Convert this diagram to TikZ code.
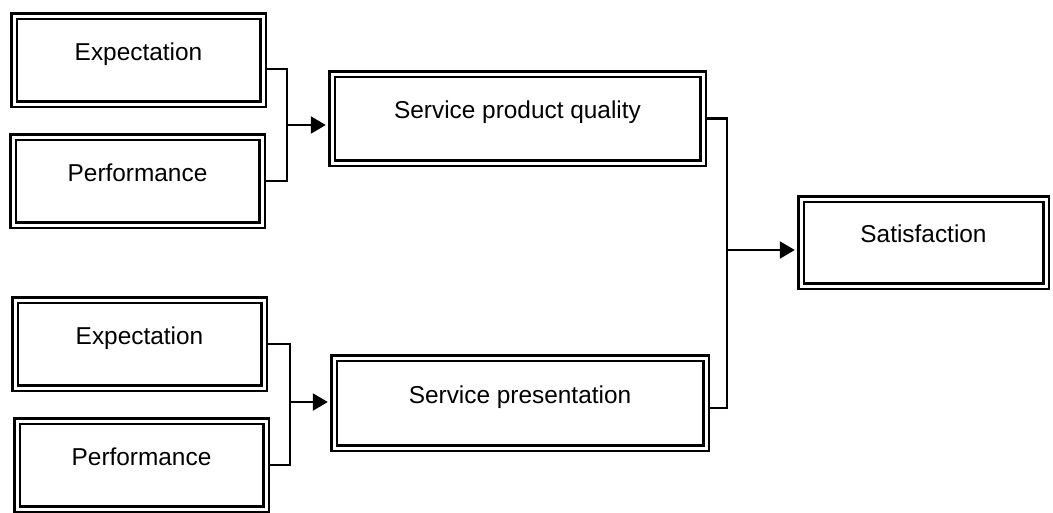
\documentclass[tikz,border=0pt]{standalone}
\usepackage{fontspec}
\setmainfont{Liberation Sans}
\usetikzlibrary{arrows.meta}

\tikzset{
  box/.style={draw, double, double distance=3pt, line width=2.4pt,
    minimum width=249pt, minimum height=88pt, inner sep=0pt,
    text height=17.5pt, text depth=17pt,
    font=\fontsize{24.4}{29}\selectfont},
  link/.style={line width=2.2pt},
  bracket/.style={link, shorten <=3pt, shorten >=3pt},
  arr/.style={link, -{Triangle[length=15pt,width=17pt]}, shorten >=5pt}
}

\begin{document}
\begin{tikzpicture}[x=1pt,y=-1pt]
\useasboundingbox (0,0) rectangle (1053,512);

% the two pairs of inputs
\node[box] (exp1) at (138.5,60) {Expectation};
\node[box] (perf1) at (137.5,181) {Performance};
\node[box] (exp2) at (139.5,344) {Expectation};
\node[box] (perf2) at (141.5,465) {Performance};

% the two quality nodes and the outcome
\node[box, minimum width=371pt, minimum height=89pt] (spq) at (517.5,118.5) {Service product quality};
\node[box, minimum width=372pt, minimum height=90pt] (sp) at (520,403) {Service presentation};
\node[box, minimum width=245pt, minimum height=87pt] (sat) at (923.5,242.5) {Satisfaction};

% brackets
\coordinate (j1) at (287,125);
\coordinate (j2) at (290,402);
\coordinate (j3) at (727,250);

\draw[bracket] ([yshift=-9pt]exp1.east) -| (j1) |- (perf1.east);
\draw[arr] (j1) -- (j1 -| spq.west);

\draw[bracket] (exp2.east) -| (j2) |- (perf2.east);
\draw[arr] (j2) -- (j2 -| sp.west);

\draw[bracket] (spq.east) -| (j3) |- ([yshift=-5pt]sp.east);
\draw[arr] (j3) -- (j3 -| sat.west);

\end{tikzpicture}
\end{document}
